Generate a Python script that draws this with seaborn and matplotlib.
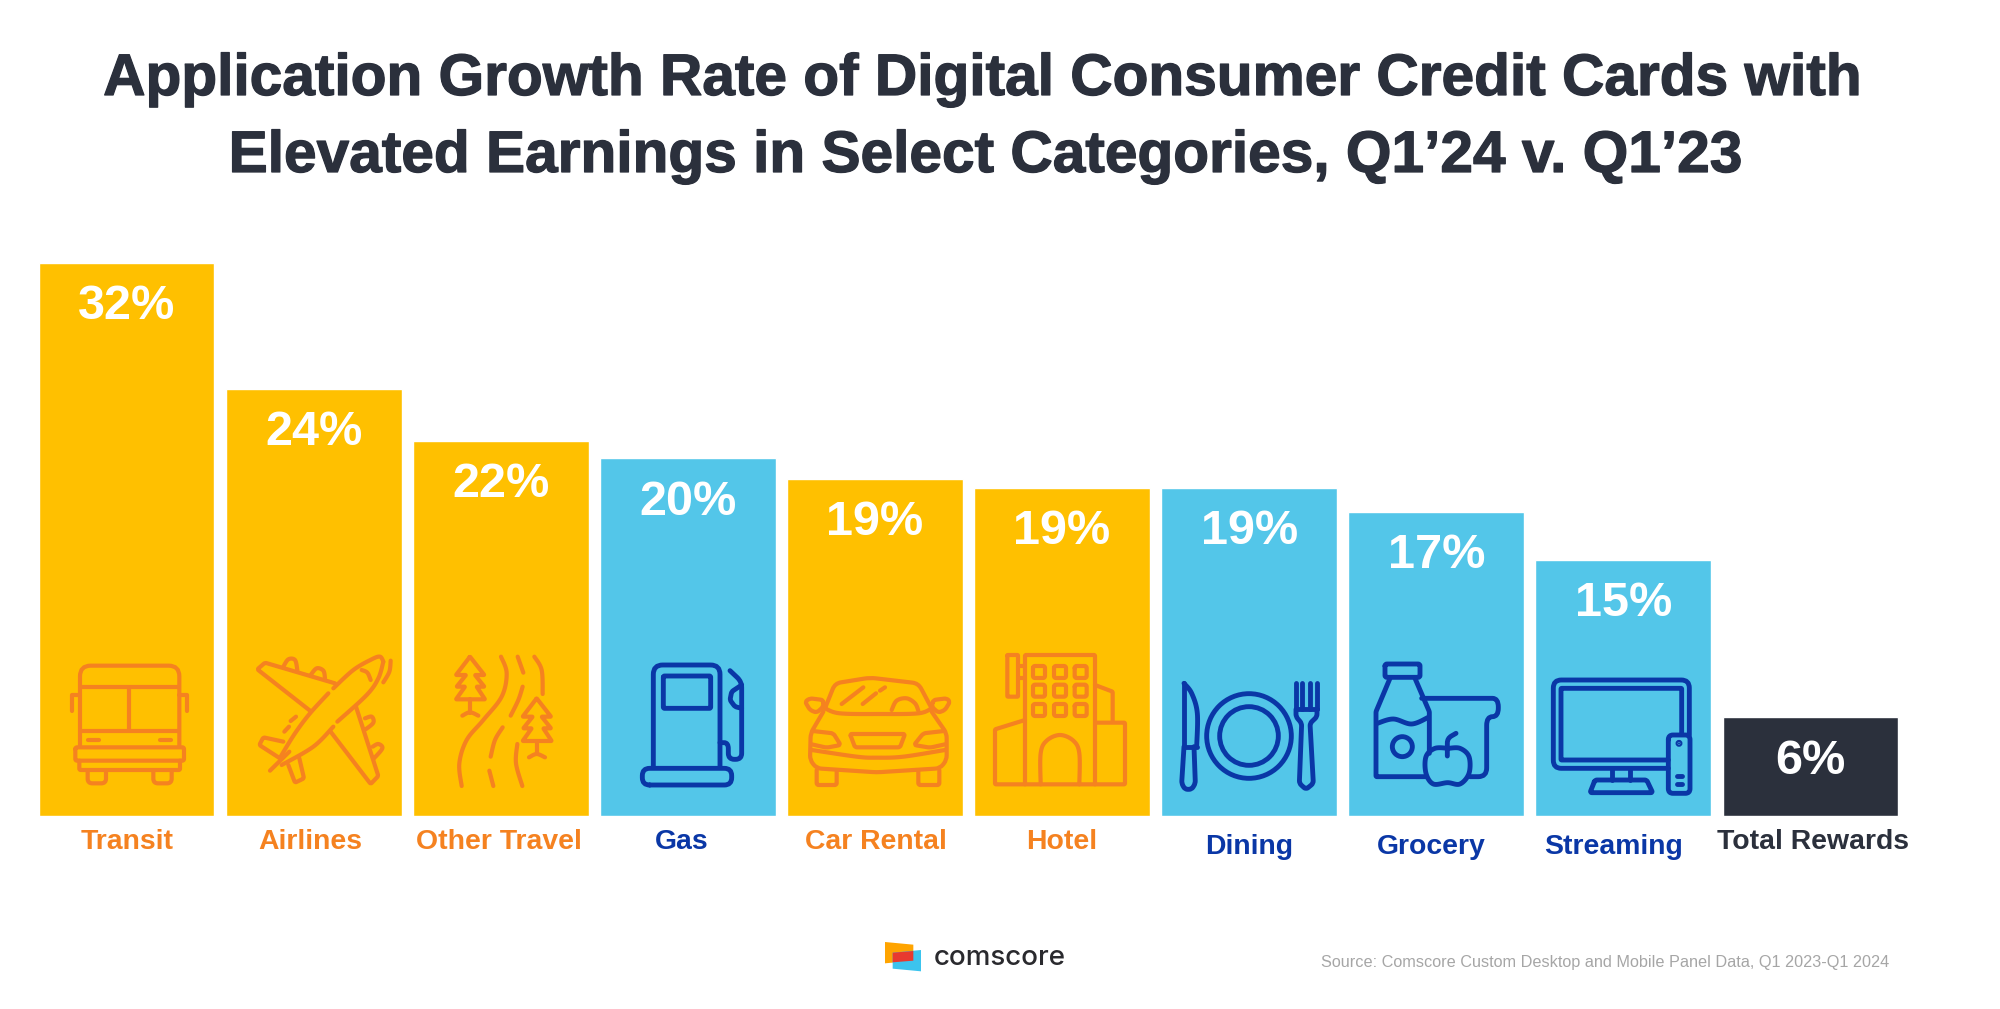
import matplotlib
matplotlib.use('Agg')
import matplotlib.pyplot as plt
import matplotlib.patheffects as pe
import matplotlib.transforms as mtrans
from matplotlib.patches import Circle, PathPatch, Polygon
from matplotlib.path import Path
import numpy as np
import pandas as pd
import seaborn as sns

# values
categories = ['Transit', 'Airlines', 'Other Travel', 'Gas', 'Car Rental', 'Hotel',
              'Dining', 'Grocery', 'Streaming', 'Total Rewards']
growth = [32.0, 24.7, 21.7, 20.7, 19.5, 19.0, 19.0, 17.6, 14.8, 5.7]
growth_labels = ['32%', '24%', '22%', '20%', '19%', '19%', '19%', '17%', '15%', '6%']

YELLOW = '#FFC000'
SKY = '#53C6E9'
DARK = '#2B303C'
ORANGE = '#F58220'
NAVY = '#0A37A6'
bar_colors = [YELLOW, YELLOW, YELLOW, SKY, YELLOW, YELLOW, SKY, SKY, SKY, DARK]
label_colors = [ORANGE, ORANGE, ORANGE, NAVY, ORANGE, ORANGE, NAVY, NAVY, NAVY, DARK]
# nudges of the category labels, in pixels
label_dx = [1, -3, -2, -6, 1, 0, 0, -5, -10, 3]
label_dy = [0, 0, 0, 0, 0, 0, -5, -5, -5, 0]

W, H = 2000, 1009
sns.set_theme(style='white')
plt.rcParams['font.family'] = ['Liberation Sans', 'DejaVu Sans']

df = pd.DataFrame({'category': categories, 'growth': growth})

fig = plt.figure(figsize=(W / 100, H / 100), dpi=100, facecolor='white')
ax = fig.add_axes([33 / W, (H - 816) / H, 1871 / W, 553 / H])
sns.barplot(data=df, x='category', y='growth', hue='category', palette=bar_colors,
            saturation=1, width=0.94, legend=False, ax=ax)
ax.set_xlim(-0.5, 9.5)
ax.set_ylim(0, 32)
ax.set_xlabel('')
ax.set_ylabel('')
ax.set_yticks([])
sns.despine(ax=ax, left=True, bottom=True)
ax.tick_params(axis='x', length=0, pad=18.6, labelsize=20.4)

for i, lab in enumerate(ax.get_xticklabels()):
    lab.set_fontweight('bold')
    lab.set_color(label_colors[i])
    lab.set_va('center')
    shift = mtrans.ScaledTranslation(label_dx[i] / 100, label_dy[i] / 100, fig.dpi_scale_trans)
    lab.set_transform(lab.get_transform() + shift)

for i, v in enumerate(growth):
    ax.annotate(growth_labels[i], xy=(i, v), xytext=(0, -31.5), textcoords='offset points',
                ha='center', va='center', color='white', fontsize=35, fontweight='bold')

# title, one text per line so the baselines sit right
heavy = [pe.withStroke(linewidth=0.9, foreground=DARK)]
fig.text(982 / W, 1 - 95 / H, 'Application Growth Rate of Digital Consumer Credit Cards with',
         ha='center', va='baseline', fontsize=42.2, fontweight='bold', color=DARK, path_effects=heavy)
fig.text(985 / W, 1 - 172 / H, 'Elevated Earnings in Select Categories, Q1’24 v. Q1’23',
         ha='center', va='baseline', fontsize=42.2, fontweight='bold', color=DARK, path_effects=heavy)

# footer
fig.text(1889 / W, 1 - 962 / H, 'Source: Comscore Custom Desktop and Mobile Panel Data, Q1 2023-Q1 2024',
         ha='right', va='center', fontsize=11.7, color='#A6A6A6')
fig.text(934 / W, 1 - 958 / H, 'comscore', ha='left', va='center', fontsize=20,
         family='Inter', fontweight='medium', color='#2A2A2E')

# overlay in image pixels for the icons and the logo
ov = fig.add_axes([0, 0, 1, 1], zorder=5)
ov.set_xlim(0, W)
ov.set_ylim(H, 0)
ov.axis('off')
ov.patch.set_alpha(0)


def catmull(pts, n=12):
    p = np.array(pts, dtype=float)
    p = np.vstack([p[0], p, p[-1]])
    out = []
    for i in range(1, len(p) - 2):
        for t in np.linspace(0, 1, n, endpoint=False):
            a = 2 * p[i] + (p[i + 1] - p[i - 1]) * t
            b = (2 * p[i - 1] - 5 * p[i] + 4 * p[i + 1] - p[i + 2]) * t ** 2
            c = (3 * p[i] - p[i - 1] - 3 * p[i + 1] + p[i + 2]) * t ** 3
            out.append(0.5 * (a + b + c))
    out.append(p[-2])
    return np.array(out)


def rounded(pts, r, closed):
    p = np.array(pts, dtype=float)
    n = len(p)
    verts, codes = [], []
    idx = range(n) if closed else range(1, n - 1)
    if not closed:
        verts.append(p[0])
        codes.append(Path.MOVETO)
    for i in idx:
        prev, cur, nxt = p[(i - 1) % n], p[i], p[(i + 1) % n]
        d1 = prev - cur
        d2 = nxt - cur
        r1 = min(r, np.hypot(*d1) / 2)
        r2 = min(r, np.hypot(*d2) / 2)
        a = cur + d1 / max(np.hypot(*d1), 1e-6) * r1
        b = cur + d2 / max(np.hypot(*d2), 1e-6) * r2
        verts.append(a)
        codes.append(Path.LINETO if verts[:-1] else Path.MOVETO)
        verts += [cur, b]
        codes += [Path.CURVE3, Path.CURVE3]
    if closed:
        verts.append(verts[0])
        codes.append(Path.LINETO)
    else:
        verts.append(p[-1])
        codes.append(Path.LINETO)
    return Path(verts, codes)


class Icon:
    # coordinates are pixels of a 3x crop whose corner sits at (ox, oy)
    def __init__(self, ox, oy, color, lw):
        self.ox, self.oy, self.color, self.lw = ox, oy, color, lw

    def _xy(self, pts):
        return [(self.ox + x / 3, self.oy + y / 3) for x, y in pts]

    def line(self, pts, closed=False, r=0, smooth=False):
        xy = self._xy(pts)
        if smooth:
            path = Path(catmull(xy))
        else:
            path = rounded(xy, r / 3, closed) if (r or closed) and len(xy) > 2 else Path(xy)
        ov.add_patch(PathPatch(path, fill=False, edgecolor=self.color, lw=self.lw,
                               capstyle='round', joinstyle='round'))

    def rect(self, x0, y0, x1, y1, r=6):
        self.line([(x0, y0), (x1, y0), (x1, y1), (x0, y1)], closed=True, r=r)

    def circle(self, x, y, r, filled=False):
        ov.add_patch(Circle((self.ox + x / 3, self.oy + y / 3), r / 3, fill=filled,
                            edgecolor=self.color, facecolor=self.color, lw=self.lw))


ORANGE_LW = 3.0
NAVY_LW = 3.5

# bus and plane
ic = Icon(50, 650, ORANGE, ORANGE_LW)
ic.line([(90, 290), (90, 47), (388, 47), (388, 290)], r=32)
ic.line([(90, 110), (388, 110)])
ic.line([(238, 110), (238, 243)])
ic.line([(90, 243), (388, 243)])
ic.line([(114, 270), (148, 270)])
ic.line([(330, 270), (363, 270)])
ic.rect(76, 292, 402, 332, r=5)
ic.line([(88, 332), (88, 360), (390, 360), (390, 332)], r=4)
ic.line([(113, 360), (113, 400), (168, 400), (168, 360)], r=14)
ic.line([(310, 360), (310, 400), (365, 400), (365, 360)], r=14)
ic.line([(65, 182), (65, 135), (90, 135)])
ic.line([(412, 182), (412, 135), (388, 135)])

ic.line([(693, 318), (735, 250), (780, 190), (835, 130)], smooth=True)
ic.line([(850, 115), (910, 60), (965, 28), (990, 20), (1000, 35)], smooth=True)
ic.line([(1000, 35), (985, 85), (950, 135), (862, 215)], smooth=True)
ic.line([(850, 230), (790, 290), (695, 345)], smooth=True)
ic.line([(855, 100), (645, 38), (622, 58), (780, 182)], r=5)
ic.line([(700, 50), (715, 28), (735, 30), (742, 60)], smooth=True)
ic.line([(782, 75), (800, 55), (820, 62), (825, 85)], smooth=True)
ic.line([(918, 170), (985, 378), (962, 402), (842, 245)], r=5)
ic.line([(945, 205), (965, 200), (970, 218), (947, 238)], smooth=True)
ic.line([(968, 290), (985, 282), (997, 295), (972, 325)], smooth=True)
ic.line([(700, 275), (640, 262), (628, 285), (690, 325)], r=5)
ic.line([(715, 345), (735, 398), (762, 385), (748, 325)], r=5)
ic.line([(660, 362), (718, 305)])
ic.line([(703, 245), (717, 230)])
ic.line([(722, 213), (738, 200)])
ic.line([(935, 60), (952, 68), (962, 90)], smooth=True)
ic.line([(1022, 32), (1018, 65), (1000, 97)], smooth=True)

# road with trees
ic = Icon(430, 650, ORANGE, ORANGE_LW)
for dx, dy in [(0, 0), (200, 125)]:
    tree = [(120, 20), (163, 75), (135, 75), (163, 110), (140, 110), (165, 148),
            (78, 148), (105, 110), (80, 110), (108, 75), (78, 75)]
    ic.line([(x + dx, y + dy) for x, y in tree], closed=True, r=2)
    ic.line([(120 + dx, 148 + dy), (120 + dx, 188 + dy)])
    ic.line([(97 + dx, 197 + dy), (120 + dx, 187 + dy), (145 + dx, 197 + dy)], smooth=True)
ic.line([(213, 20), (230, 70), (215, 140), (160, 210), (110, 270), (88, 340), (95, 408)], smooth=True)
ic.line([(263, 20), (280, 68)], smooth=False)
ic.line([(278, 110), (265, 150), (242, 197)], smooth=True)
ic.line([(218, 232), (195, 270), (182, 320)], smooth=True)
ic.line([(178, 362), (190, 408)])
ic.line([(313, 20), (335, 60), (338, 132)], smooth=True)
ic.line([(262, 282), (258, 340), (277, 408)], smooth=True)

# gas pump
ic = Icon(430, 650, NAVY, NAVY_LW)
ic.line([(670, 350), (670, 45), (870, 45), (870, 350)], r=28)
ic.rect(700, 78, 842, 175, r=4)
ic.line([(637, 405), (637, 355), (905, 355), (905, 405)], closed=True, r=22)
ic.line([(870, 278), (895, 278), (895, 328), (935, 328), (935, 95), (900, 62)], r=18)
ic.line([(935, 105), (905, 125), (900, 150), (915, 170), (935, 175)], r=6)

# car
ic = Icon(790, 650, ORANGE, ORANGE_LW)
ic.line([(105, 175), (135, 100), (240, 83), (385, 100), (425, 175)], r=18)
ic.line([(105, 175), (150, 190), (270, 192), (385, 190), (425, 175)], smooth=True)
ic.line([(305, 180), (320, 152), (350, 145), (375, 160), (385, 182)], smooth=True)
ic.line([(155, 162), (220, 112)])
ic.line([(218, 162), (258, 130)])
ic.line([(270, 122), (285, 112)])
ic.line([(100, 150), (60, 145), (45, 155), (60, 180), (80, 188), (100, 170)], closed=True, r=8)
ic.line([(430, 150), (470, 145), (480, 155), (465, 180), (445, 188), (425, 170)], closed=True, r=8)
ic.line([(100, 185), (62, 250), (60, 330), (80, 355), (260, 367), (450, 355), (470, 330),
         (470, 250), (425, 185)], r=14)
ic.line([(65, 300), (200, 320), (260, 323), (340, 320), (465, 300)], smooth=True)
ic.line([(68, 243), (130, 250), (152, 285), (110, 293), (65, 283)], r=8)
ic.line([(462, 243), (400, 250), (372, 285), (420, 293), (465, 283)], r=8)
ic.line([(180, 252), (345, 252), (330, 292), (195, 292)], closed=True, r=6)
ic.line([(80, 360), (80, 405), (140, 405), (140, 365)], r=6)
ic.line([(385, 365), (385, 405), (448, 405), (448, 360)], r=6)

# hotel
ic.line([(705, 403), (705, 15), (915, 15), (915, 403)], r=3)
ic.rect(652, 15, 684, 140, r=2)
ic.line([(684, 48), (705, 48)])
ic.line([(684, 85), (705, 85)])
for wx in [747, 810, 872]:
    for wy in [66, 122, 180]:
        ic.rect(wx - 18, wy - 18, wx + 18, wy + 18, r=6)
ic.line([(915, 105), (968, 125), (968, 215)], r=3)
ic.line([(915, 218), (1005, 218), (1005, 403), (615, 403), (615, 238), (705, 210)], r=3)
ic.line([(752, 403), (752, 310), (770, 272), (810, 255), (850, 272), (868, 310), (868, 403)], smooth=True)

# dining and grocery
ic = Icon(1170, 650, NAVY, NAVY_LW)
ic.line([(42, 100), (65, 130), (82, 190), (80, 290)], smooth=True)
ic.line([(42, 100), (42, 290), (80, 290)])
ic.line([(42, 290), (35, 400), (45, 418), (65, 418), (76, 400), (72, 290)], r=8)
ic.circle(237, 258, 127)
ic.circle(237, 258, 88)
for fx in [378, 397, 420, 441]:
    ic.line([(fx, 100), (fx, 178)])
ic.line([(378, 178), (441, 178)])
ic.line([(378, 178), (378, 200), (395, 220), (388, 400), (408, 418), (430, 400),
         (420, 220), (441, 200), (441, 178)], r=8)

ic.rect(645, 42, 750, 82, r=6)
ic.line([(660, 85), (618, 185), (618, 380), (770, 380)], r=3)
ic.line([(735, 85), (778, 185), (778, 310)], r=3)
ic.line([(622, 220), (670, 207), (725, 222), (775, 202)], smooth=True)
ic.circle(697, 290, 30)
ic.line([(755, 145), (950, 145), (985, 145), (985, 200), (950, 200), (950, 380), (900, 380)], r=26)
ic.line([(835, 295), (795, 295), (768, 320), (768, 370), (790, 402), (833, 398), (870, 402),
         (897, 370), (897, 320), (870, 295), (835, 295)], smooth=True)
ic.line([(832, 318), (832, 265), (858, 250)], r=14)

# streaming
ic = Icon(1530, 650, NAVY, NAVY_LW)
ic.line([(415, 355), (70, 355), (70, 90), (478, 90), (478, 255)], r=24)
ic.line([(415, 330), (93, 330), (93, 115), (455, 115), (455, 252)], r=2)
ic.line([(247, 355), (247, 390)])
ic.line([(300, 355), (300, 390)])
ic.line([(195, 390), (350, 390), (368, 428), (180, 428)], closed=True, r=6)
ic.rect(415, 255, 480, 430, r=14)
ic.circle(447, 280, 3, filled=True)
ic.line([(440, 378), (455, 378)])
ic.line([(440, 403), (455, 403)])

# logo marks
def logo_xy(pts):
    return [(870 + x / 3, 930 + y / 3) for x, y in pts]

ov.add_patch(Polygon(logo_xy([(45, 36), (130, 44), (130, 92), (45, 100)]), color='#FFA400', lw=0))
ov.add_patch(Polygon(logo_xy([(68, 68), (153, 60), (153, 124), (68, 116)]), color='#3CC4EE', lw=0))
ov.add_patch(Polygon(logo_xy([(68, 68), (130, 63), (130, 92), (68, 97)]), color='#E8392F', lw=0))

fig.savefig('out.png', dpi=100)
